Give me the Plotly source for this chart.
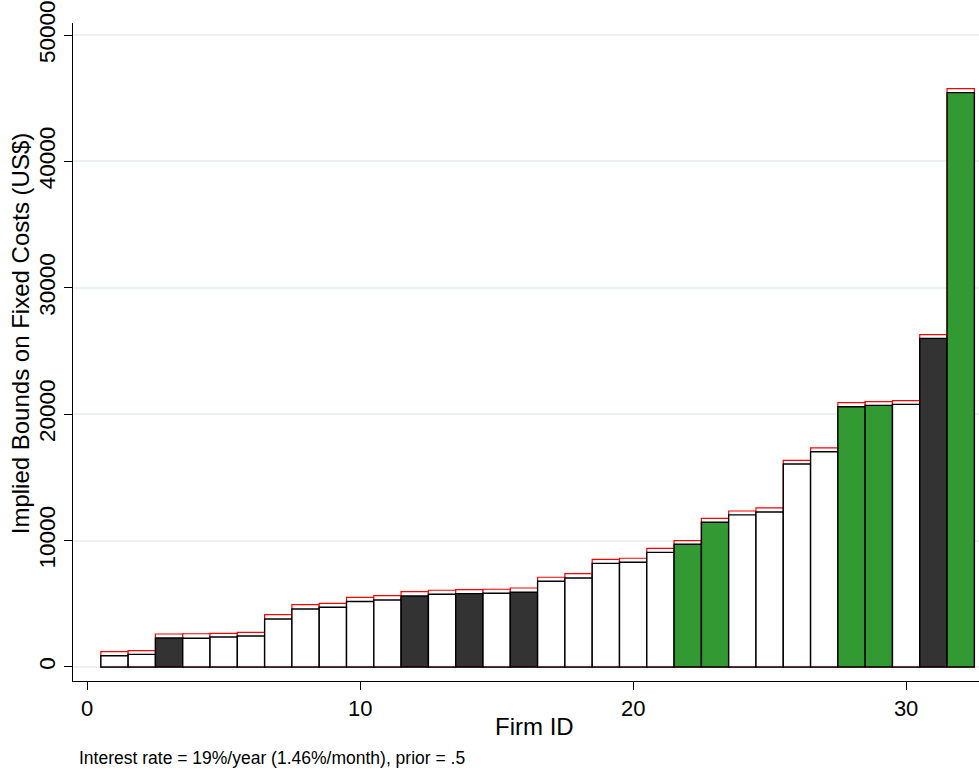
import plotly.graph_objects as go

# Firm identifiers and implied bounds on fixed costs (US$)
firm_id = list(range(1, 33))
lower_bound = [890, 1000, 2290, 2270, 2370, 2450, 3800, 4590, 4730, 5180,
               5300, 5620, 5750, 5800, 5830, 5910, 6780, 7040, 8200, 8280,
               9070, 9710, 11450, 12030, 12260, 16060, 17030, 20590, 20700,
               20780, 26000, 45440]
upper_bound = [1210, 1290, 2610, 2630, 2660, 2740, 4140, 4930, 5030, 5510,
               5640, 5960, 6070, 6120, 6150, 6250, 7100, 7380, 8520, 8600,
               9390, 9990, 11760, 12340, 12580, 16350, 17330, 20910, 20990,
               21070, 26290, 45750]
# firm group: 0 = unfilled, 1 = dark, 2 = green
firm_group = [0, 0, 1, 0, 0, 0, 0, 0, 0, 0,
              0, 1, 0, 1, 0, 1, 0, 0, 0, 0,
              0, 2, 2, 0, 0, 0, 0, 2, 2, 0,
              1, 2]

group_colors = {0: "#ffffff", 1: "#333333", 2: "#339933"}
lower_fill = [group_colors[g] for g in firm_group]

FONT = "Arial, Liberation Sans, sans-serif"

fig = go.Figure()
fig.add_trace(go.Bar(
    x=firm_id, y=upper_bound, width=1,
    marker=dict(color="#ffffff", line=dict(color="#ff0000", width=1.2)),
    showlegend=False, hoverinfo="x+y",
))
fig.add_trace(go.Bar(
    x=firm_id, y=lower_bound, width=1,
    marker=dict(color=lower_fill, line=dict(color="#000000", width=1.4)),
    showlegend=False, hoverinfo="x+y",
))

fig.update_layout(
    width=979, height=769,
    barmode="overlay",
    plot_bgcolor="#ffffff", paper_bgcolor="#ffffff",
    margin=dict(l=73, r=0, t=23, b=88),
    font=dict(family=FONT, color="#000000"),
    xaxis=dict(
        range=[-0.52, 32.67],
        tickvals=[0, 10, 20, 30],
        ticks="outside", ticklen=8, tickwidth=1, tickcolor="#000000",
        showline=True, linecolor="#000000", linewidth=1,
        showgrid=False, zeroline=False,
        tickfont=dict(size=22),
    ),
    yaxis=dict(
        range=[-1110, 50950],
        tickvals=[0, 10000, 20000, 30000, 40000, 50000],
        tickformat="d",
        tickangle=-90,
        ticks="outside", ticklen=8, tickwidth=1, tickcolor="#000000",
        showline=True, linecolor="#000000", linewidth=1,
        showgrid=True, gridcolor="#eaf2f3", gridwidth=1.5,
        zeroline=False,
        tickfont=dict(size=22.5),
    ),
    annotations=[
        dict(text="Firm ID", xref="paper", yref="paper",
             x=0.509, y=-0.046, xanchor="center", yanchor="top",
             showarrow=False, font=dict(size=24)),
        dict(text="Implied Bounds on Fixed Costs (US$)", xref="paper", yref="paper",
             x=-0.057, y=0.529, xanchor="center", yanchor="middle",
             textangle=-90, showarrow=False, font=dict(size=24)),
        dict(text="Interest rate = 19%/year (1.46%/month), prior = .5",
             xref="paper", yref="paper",
             x=0.0047, y=-0.0986, xanchor="left", yanchor="top",
             showarrow=False, font=dict(size=17.5)),
    ],
)

fig.write_html("out.html")
